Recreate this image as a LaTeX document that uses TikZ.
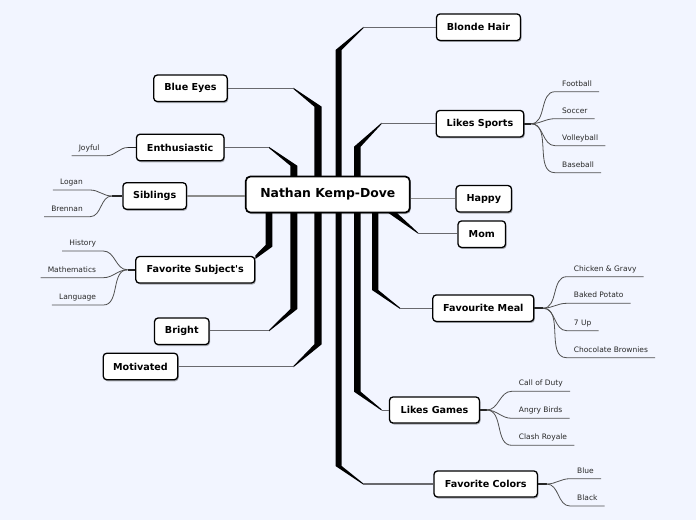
\documentclass[tikz,border=0pt]{standalone}
\usepackage{fontspec}
\setmainfont{DejaVu Sans}
\newfontfamily\plainsans{DejaVu Sans}
\usetikzlibrary{shadows}
\definecolor{bg}{RGB}{242,245,255}
\definecolor{twigc}{RGB}{80,80,80}
\definecolor{branchc}{RGB}{105,105,110}
\definecolor{leaftext}{RGB}{40,40,40}
\begin{document}
\begin{tikzpicture}[x=1pt,y=-1pt,
  topic/.style={draw=black, line width=1.3pt, fill=white, rounded corners=3.5pt,
    font=\bfseries\fontsize{9.6}{11}\selectfont, inner sep=0pt,
    drop shadow={shadow xshift=1pt, shadow yshift=-1.5pt, opacity=0.3, fill=black}},
  central/.style={topic, line width=1.7pt, rounded corners=4.5pt,
    font=\bfseries\fontsize{12.4}{14}\selectfont},
  leaf/.style={font=\fontsize{7.5}{9}\selectfont, text=leaftext, inner xsep=7pt,
    inner ysep=5.5pt, text depth=0pt},
  trunk/.style={fill=black},
  branch/.style={draw=branchc, line width=1pt},
  stub/.style={draw=black!85, line width=1.6pt},
  twig/.style={draw=twigc, line width=0.8pt}
]
\fill[bg] (0,0) rectangle (696,520);
\useasboundingbox (0,0) rectangle (696,520);

% tapered trunks
\fill[trunk] (335.5,194.5) -- (335.5,50) -- (363.5,26.9) -- (363.5,28.1) -- (341.7,50) -- (341.7,194.5) -- cycle;
\fill[trunk] (354,194.5) -- (354,146.7) -- (381.7,122.7) -- (381.7,123.9) -- (360.7,146.7) -- (360.7,194.5) -- cycle;
\fill[trunk] (321.7,194.5) -- (321.7,106.7) -- (293.3,87.7) -- (293.3,88.9) -- (314.3,106.7) -- (314.3,194.5) -- cycle;
\fill[trunk] (297.3,194.5) -- (297.3,165.7) -- (269,146.9) -- (269,148.1) -- (290.3,165.7) -- (290.3,194.5) -- cycle;
\fill[trunk] (265.5,194.5) -- (265.5,245) -- (255.3,255.5) -- (255.3,259) -- (272.3,246.7) -- (272.3,194.5) -- cycle;
\fill[trunk] (290.3,194.5) -- (290.3,309) -- (269,330.1) -- (269,331.3) -- (297.3,309) -- (297.3,194.5) -- cycle;
\fill[trunk] (314.3,194.5) -- (314.3,344.3) -- (293.3,366.1) -- (293.3,367.3) -- (321.7,344.3) -- (321.7,194.5) -- cycle;
\fill[trunk] (372,194.5) -- (372,290) -- (400,308.9) -- (400,307.7) -- (378.3,290) -- (378.3,194.5) -- cycle;
\fill[trunk] (354,194.5) -- (354,391.7) -- (381.7,410.6) -- (381.7,409.4) -- (360.7,391.7) -- (360.7,194.5) -- cycle;
\fill[trunk] (335.5,194.5) -- (335.5,466) -- (363.3,484.6) -- (363.3,483.4) -- (341.7,466) -- (341.7,194.5) -- cycle;
\fill[trunk] (377,205) -- (388.4,205) -- (418.3,232.8) -- (418.3,233.8) -- cycle;

% trunk ends
\coordinate (bhE) at (363.5,27.5);
\coordinate (lsE) at (381.7,123.3);
\coordinate (beE) at (293.3,88.3);
\coordinate (enE) at (269,147.5);
\coordinate (brE) at (269,330.7);
\coordinate (moE) at (293.3,366.7);
\coordinate (fmE) at (400,308.3);
\coordinate (lgE) at (381.7,410);
\coordinate (fcE) at (363.3,484);
\coordinate (mmE) at (418.3,233.3);

% topics
\node[central, minimum width=164pt, minimum height=36pt] (center) at (327.8,194.5) {Nathan Kemp-Dove};
\node[topic, minimum width=84pt, minimum height=26.5pt] (blonde) at (478.5,27.2) {Blonde Hair};
\node[topic, minimum width=87.5pt, minimum height=26.5pt] (sports) at (480,123.7) {Likes Sports};
\node[topic, minimum width=73.5pt, minimum height=26.5pt] (blueeyes) at (190.5,88.3) {Blue Eyes};
\node[topic, minimum width=87.5pt, minimum height=26.5pt] (enth) at (180.2,147.5) {Enthusiastic};
\node[topic, minimum width=63.5pt, minimum height=26.5pt] (sib) at (154.7,196) {Siblings};
\node[topic, minimum width=119pt, minimum height=26.5pt] (subj) at (195.3,269.8) {\plainsans\bfseries Favorite Subject's};
\node[topic, minimum width=54.5pt, minimum height=26.5pt] (bright) at (181.8,331.3) {Bright};
\node[topic, minimum width=74.5pt, minimum height=26.5pt] (motiv) at (140.5,366.5) {Motivated};
\node[topic, minimum width=55.5pt, minimum height=26.5pt] (happy) at (483.8,198.8) {Happy};
\node[topic, minimum width=47.5pt, minimum height=26.5pt] (mom) at (481.8,234.2) {Mom};
\node[topic, minimum width=101pt, minimum height=26.5pt] (meal) at (483.3,308.2) {Favourite Meal};
\node[topic, minimum width=90pt, minimum height=26pt] (games) at (434.5,410) {Likes Games};
\node[topic, minimum width=103.5pt, minimum height=26pt] (colors) at (485.7,484) {Favorite Colors};

% horizontal branches
\draw[branch] (bhE) -- (bhE -| blonde.west);
\draw[branch] (lsE) -- (lsE -| sports.west);
\draw[branch] (beE) -- (beE -| blueeyes.east);
\draw[branch] (enE) -- (enE -| enth.east);
\draw[branch] (brE) -- (brE -| bright.east);
\draw[branch] (moE) -- (moE -| motiv.east);
\draw[branch] (fmE) -- (fmE -| meal.west);
\draw[branch] (lgE) -- (lgE -| games.west);
\draw[branch, line width=1.3pt] (fcE) -- (fcE -| colors.west);
\draw[branch, line width=1.3pt] (mmE) -- (mmE -| mom.west);
\draw[branch, line width=1.6pt, draw=black!45] (sib.east) -- (sib.east -| center.west);
\draw[branch, line width=1.3pt, draw=black!45] (center.east |- happy.west) -- (happy.west);

% child origins
\coordinate (sportsO) at (531,123.7);
\coordinate (mealO) at (543,308.2);
\coordinate (gamesO) at (486.7,410);
\coordinate (colorsO) at (546.7,484);
\coordinate (enthO) at (128,147.5);
\coordinate (sibO) at (112,196);
\coordinate (subjO) at (127.5,269.8);
\draw[stub] (sports.east) -- (sportsO);
\draw[stub] (meal.east) -- (mealO);
\draw[stub] (games.east) -- (gamesO);
\draw[stub] (colors.east) -- (colorsO);
\draw[stub] (enth.west) -- (enthO);
\draw[stub] (sib.west) -- (sibO);
\draw[stub] (subj.west) -- (subjO);

% leaves right
\node[leaf, anchor=south west] (football) at (555,91.7) {Football};
\node[leaf, anchor=south west] (soccer) at (555,118.7) {Soccer};
\node[leaf, anchor=south west] (volley) at (555,145.7) {Volleyball};
\node[leaf, anchor=south west] (baseball) at (555,172.7) {Baseball};
\node[leaf, anchor=south west] (chicken) at (566.7,276.7) {Chicken \& Gravy};
\node[leaf, anchor=south west] (potato) at (566.7,303.3) {Baked Potato};
\node[leaf, anchor=south west] (sevenup) at (566.7,330.7) {7 Up};
\node[leaf, anchor=south west] (brownies) at (566.7,357.7) {Chocolate Brownies};
\node[leaf, anchor=south west] (cod) at (511.7,391.3) {Call of Duty};
\node[leaf, anchor=south west] (angry) at (511.7,418.3) {Angry Birds};
\node[leaf, anchor=south west] (clash) at (511.7,445.3) {Clash Royale};
\node[leaf, anchor=south west] (blue) at (570,478.7) {Blue};
\node[leaf, anchor=south west] (black) at (570,506) {Black};
% leaves left
\node[leaf, anchor=south east] (joyful) at (106.7,155.7) {Joyful};
\node[leaf, anchor=south east] (logan) at (90,190) {Logan};
\node[leaf, anchor=south east] (brennan) at (90,216.7) {Brennan};
\node[leaf, anchor=south east] (history) at (103.3,251) {History};
\node[leaf, anchor=south east] (maths) at (103.3,277.7) {Mathematics};
\node[leaf, anchor=south east] (lang) at (103.3,305) {Language};

\foreach \o/\n in {sportsO/football, sportsO/soccer, sportsO/volley, sportsO/baseball,
  mealO/chicken, mealO/potato, mealO/sevenup, mealO/brownies,
  gamesO/cod, gamesO/angry, gamesO/clash, colorsO/blue, colorsO/black}
  \draw[twig] (\o) to[out=0,in=180] (\n.south west) -- (\n.south east);
\foreach \o/\n in {enthO/joyful, sibO/logan, sibO/brennan,
  subjO/history, subjO/maths, subjO/lang}
  \draw[twig] (\o) to[out=180,in=0] (\n.south east) -- (\n.south west);
\end{tikzpicture}
\end{document}
